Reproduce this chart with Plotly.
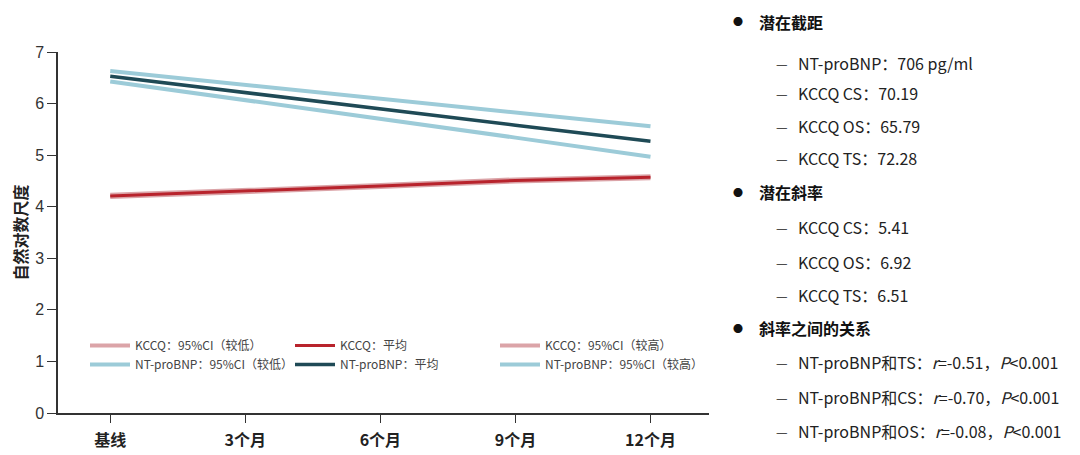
import plotly.graph_objects as go

# ---- data ----
months = [0, 3, 6, 9, 12]
tick_labels = ["基线", "3个月", "6个月", "9个月", "12个月"]

kccq_low = [4.19, 4.28, 4.38, 4.49, 4.55]
kccq_mean = [4.21, 4.30, 4.40, 4.51, 4.57]
kccq_high = [4.23, 4.32, 4.42, 4.53, 4.59]

nt_low = [6.43, 6.07, 5.70, 5.34, 4.97]
nt_mean = [6.53, 6.21, 5.90, 5.58, 5.27]
nt_high = [6.63, 6.36, 6.09, 5.83, 5.56]

series_names = [
    "KCCQ：95%CI（较低）", "KCCQ：平均", "KCCQ：95%CI（较高）",
    "NT-proBNP：95%CI（较低）", "NT-proBNP：平均", "NT-proBNP：95%CI（较高）",
]

panel_items = [
    ("h", "潜在截距"),
    ("i", "NT-proBNP：706 pg/ml"),
    ("i", "KCCQ CS：70.19"),
    ("i", "KCCQ OS：65.79"),
    ("i", "KCCQ TS：72.28"),
    ("h", "潜在斜率"),
    ("i", "KCCQ CS：5.41"),
    ("i", "KCCQ OS：6.92"),
    ("i", "KCCQ TS：6.51"),
    ("h", "斜率之间的关系"),
    ("i", "NT-proBNP和TS：<i>r</i>=-0.51，<i>P</i>&lt;0.001"),
    ("i", "NT-proBNP和CS：<i>r</i>=-0.70，<i>P</i>&lt;0.001"),
    ("i", "NT-proBNP和OS：<i>r</i>=-0.08，<i>P</i>&lt;0.001"),
]
panel_y = [22, 63, 93, 126, 158, 192, 227, 262, 295, 328, 362, 397, 431]

# ---- layout geometry (page pixels; page body has an 8px margin) ----
OFF = 8
W, H = 1080 - OFF, 455 - OFF
AX_L, AX_R, AX_T, AX_B = 58, 709, 52, 413   # plot area in page pixels
L = AX_L - OFF
T = AX_T - OFF
R = W - (AX_R - OFF)
B = H - (AX_B - OFF)
PW, PH = AX_R - AX_L, AX_B - AX_T

def px_x(p):
    return (p - AX_L) / PW

def px_y(p):
    return (AX_B - p) / PH

CJK = "Noto Sans CJK SC"
ARIAL = "Liberation Sans, Arial"

pink = "#dba4a8"
red = "#b8232c"
lblue = "#9ccbd8"
dteal = "#1f4a56"

series_vals = [kccq_low, kccq_mean, kccq_high, nt_low, nt_mean, nt_high]
series_cols = [pink, red, pink, lblue, dteal, lblue]
series_w = [4, 3, 4, 4, 3.5, 4]

fig = go.Figure()
draw_order = [0, 2, 3, 5, 1, 4]
for i in draw_order:
    fig.add_trace(go.Scatter(
        x=months, y=series_vals[i], mode="lines", name=series_names[i],
        line=dict(color=series_cols[i], width=series_w[i]),
        legendrank=i + 1, hoverinfo="skip",
    ))

fig.update_layout(
    width=W, height=H,
    margin=dict(l=L, r=R, t=T, b=B, pad=0, autoexpand=False),
    paper_bgcolor="white", plot_bgcolor="white",
    showlegend=True,
    legend=dict(
        orientation="h", x=px_x(85), y=px_y(331), xanchor="left", yanchor="top",
        entrywidth=150, entrywidthmode="pixels",
        font=dict(family=CJK, size=12, color="#444"),
        bgcolor="rgba(0,0,0,0)", traceorder="normal", tracegroupgap=0,
        itemwidth=40,
    ),
    xaxis=dict(
        range=[-1.16, 13.3], tickvals=months, ticktext=tick_labels,
        automargin=False,
        showline=True, linecolor="#333", linewidth=1.5,
        ticks="outside", ticklen=8, tickcolor="#333", tickwidth=1.2,
        ticklabelstandoff=4,
        showgrid=False, zeroline=False,
        tickfont=dict(family=CJK, size=16, color="#222", weight="bold"),
    ),
    yaxis=dict(
        range=[0, 7], tickvals=[0, 1, 2, 3, 4, 5, 6, 7],
        automargin=False,
        showline=True, linecolor="#333", linewidth=1.5,
        ticks="outside", ticklen=9, tickcolor="#333", tickwidth=1.2,
        showgrid=False, zeroline=False,
        tickfont=dict(family=ARIAL, size=16, color="#333"),
        title=dict(text="<b>自然对数尺度</b>", font=dict(family=CJK, size=16, color="#222"),
                   standoff=20),
    ),
)

for (kind, text), yy in zip(panel_items, panel_y):
    if kind == "h":
        fig.add_annotation(x=px_x(738), y=px_y(yy), xref="paper", yref="paper",
                           text="●", showarrow=False, xanchor="center", yanchor="middle",
                           font=dict(family=CJK, size=10, color="#111"))
        fig.add_annotation(x=px_x(757), y=px_y(yy), xref="paper", yref="paper",
                           text="<b>" + text + "</b>", showarrow=False,
                           xanchor="left", yanchor="middle",
                           font=dict(family=CJK, size=16, color="#111"))
    else:
        fig.add_annotation(x=px_x(774), y=px_y(yy), xref="paper", yref="paper",
                           text="—", showarrow=False, xanchor="left", yanchor="middle",
                           font=dict(family=CJK, size=13, color="#222"))
        fig.add_annotation(x=px_x(796), y=px_y(yy), xref="paper", yref="paper",
                           text=text, showarrow=False, xanchor="left", yanchor="middle",
                           font=dict(family=CJK, size=16, color="#222"))

fig.write_html("out.html")
